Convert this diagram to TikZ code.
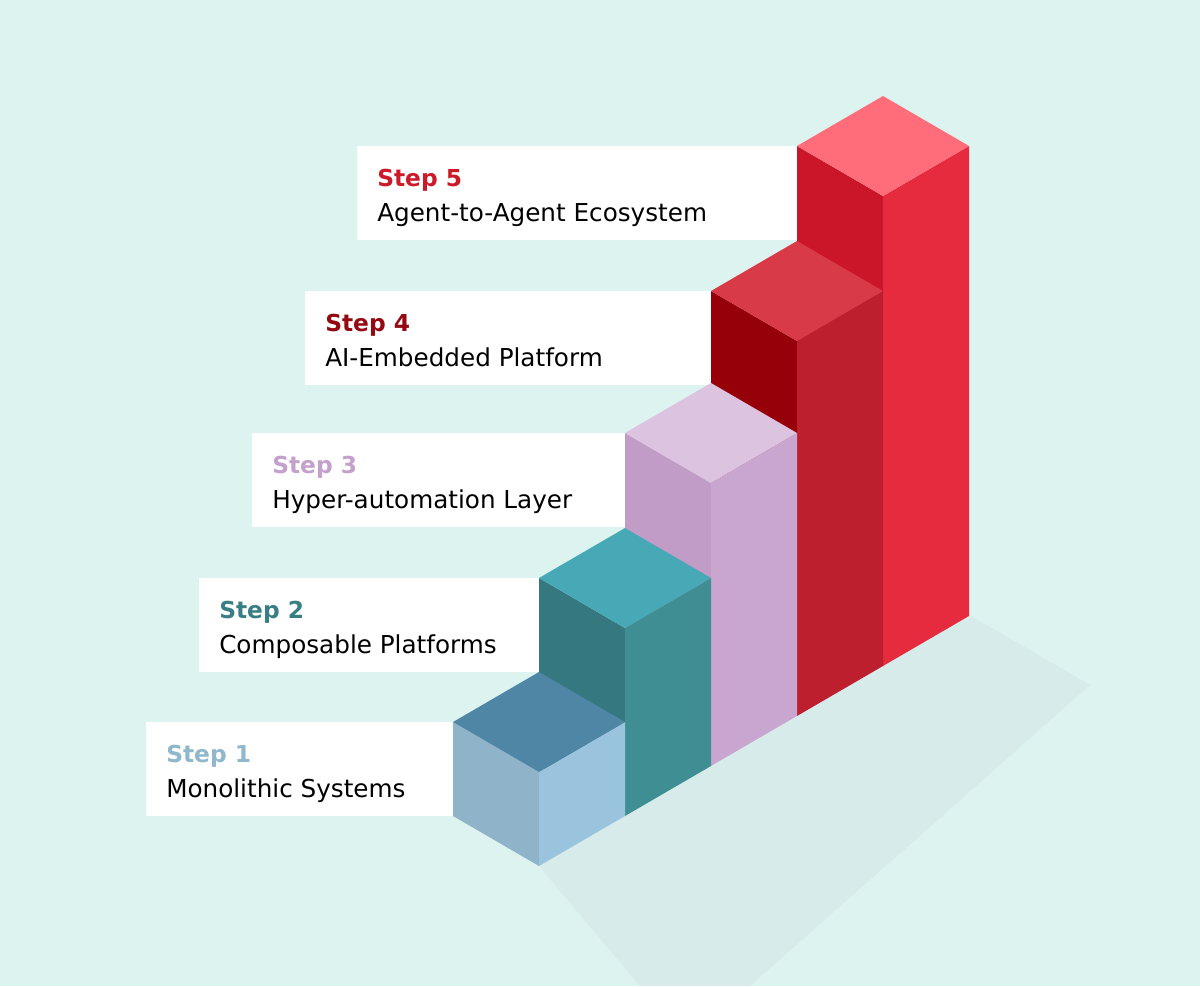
\documentclass[tikz,border=0pt]{standalone}
\usepackage{fontspec}
\setmainfont{DejaVu Sans}
\definecolor{bg}{HTML}{DDF3F0}
\definecolor{shd}{HTML}{D7ECEA}
\definecolor{aT}{HTML}{FF6D7A}\definecolor{aL}{HTML}{CB1528}\definecolor{aR}{HTML}{E52B3D}
\definecolor{bT}{HTML}{D93A47}\definecolor{bL}{HTML}{950009}\definecolor{bR}{HTML}{BE1F2E}
\definecolor{cT}{HTML}{DCC4E0}\definecolor{cL}{HTML}{C09CC6}\definecolor{cR}{HTML}{C9A6D0}
\definecolor{dT}{HTML}{47A9B5}\definecolor{dL}{HTML}{357880}\definecolor{dR}{HTML}{3F8E94}
\definecolor{eT}{HTML}{4F86A6}\definecolor{eL}{HTML}{8FB3C8}\definecolor{eR}{HTML}{9AC4DD}
\definecolor{l5}{HTML}{CC1A2A}\definecolor{l4}{HTML}{950A12}\definecolor{l3}{HTML}{C4A0CC}
\definecolor{l2}{HTML}{3A7E85}\definecolor{l1}{HTML}{8FB8CC}
\newcommand\mybar[6]{% fx fy h top left right
  \fill[#5] (#1-86,#2-50-#3) -- (#1,#2-#3) -- (#1,#2) -- (#1-86,#2-50) -- cycle;
  \fill[#6] (#1,#2-#3) -- (#1+86,#2-50-#3) -- (#1+86,#2-50) -- (#1,#2) -- cycle;
  \fill[#4] (#1-86,#2-50-#3) -- (#1,#2-100-#3) -- (#1+86,#2-50-#3) -- (#1,#2-#3) -- cycle;}
\begin{document}
\begin{tikzpicture}[x=0.75pt,y=-0.75pt,
  st/.style={font=\fontsize{17.5}{22}\selectfont\bfseries,anchor=base west,inner sep=0pt},
  tx/.style={font=\fontsize{18.5}{22}\selectfont,anchor=base west,inner sep=0pt}]
\fill[bg] (0,0) rectangle (1200,986);
\useasboundingbox (0,0) rectangle (1200,986);
\fill[shd] (539,866) -- (971,616) -- (1090,685) -- (750,986) -- (640,986) -- cycle;
\fill[white] (357,146) rectangle (797,240);
\fill[white] (305,291) rectangle (711,385);
\fill[white] (252,433) rectangle (625,527);
\fill[white] (199,578) rectangle (539,672);
\fill[white] (146,722) rectangle (453,816);
\node[st,text=l5] (s5) at (377,186) {Step 5};
\node[tx] (t5) at (377,221) {Agent-to-Agent Ecosystem};
\node[st,text=l4] (s4) at (325,331) {Step 4};
\node[tx] (t4) at (325,366) {AI-Embedded Platform};
\node[st,text=l3] (s3) at (272,473) {Step 3};
\node[tx] (t3) at (272,508) {Hyper-automation Layer};
\node[st,text=l2] (s2) at (219,618) {Step 2};
\node[tx] (t2) at (219,653) {Composable Platforms};
\node[st,text=l1] (s1) at (166,762) {Step 1};
\node[tx] (t1) at (166,797) {Monolithic Systems};
\mybar{883}{666}{470}{aT}{aL}{aR}
\mybar{797}{716}{375}{bT}{bL}{bR}
\mybar{711}{766}{283}{cT}{cL}{cR}
\mybar{625}{816}{188}{dT}{dL}{dR}
\mybar{539}{866}{94}{eT}{eL}{eR}
\end{tikzpicture}
\end{document}
